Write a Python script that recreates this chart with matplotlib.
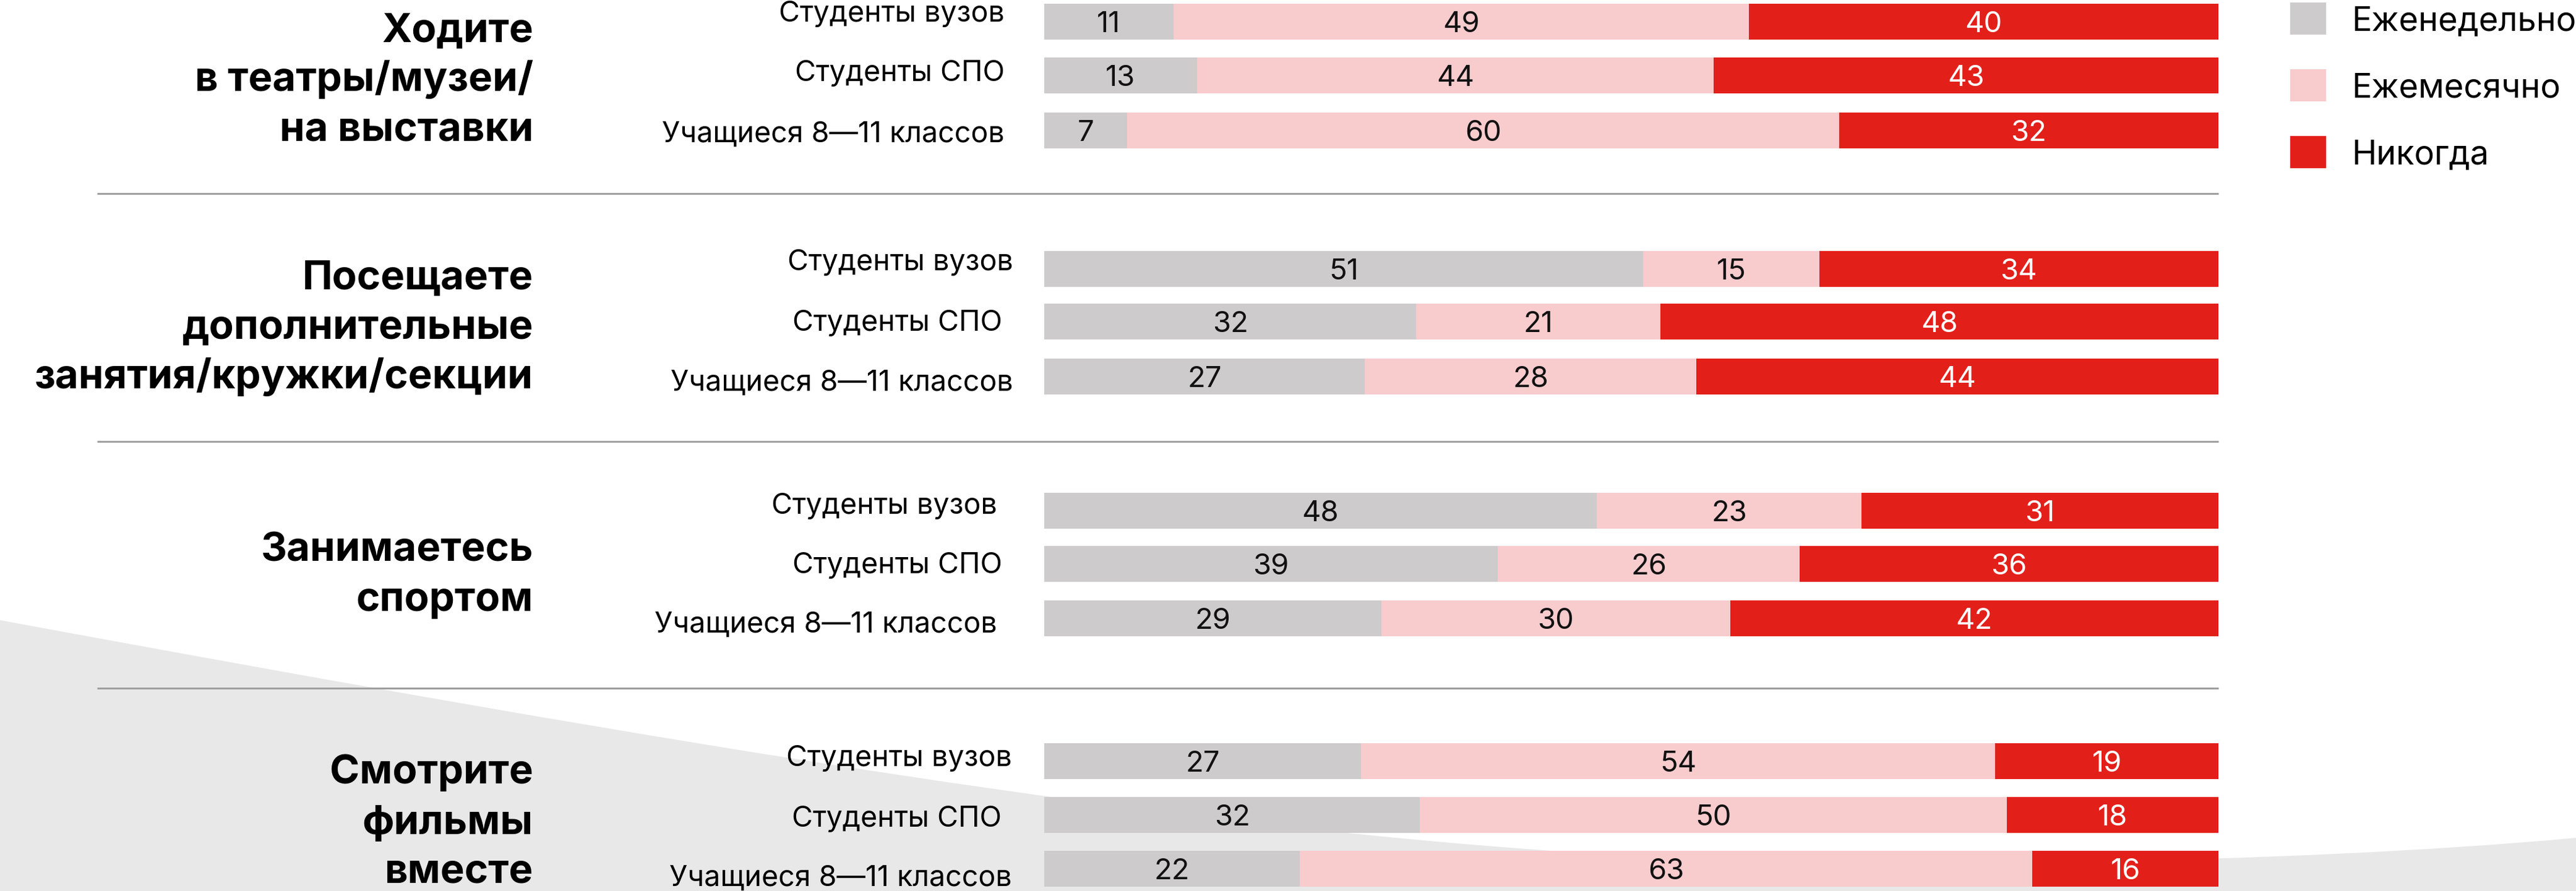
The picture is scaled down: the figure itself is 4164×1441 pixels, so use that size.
import numpy as np
import matplotlib
matplotlib.use("Agg")
import matplotlib.pyplot as plt
from matplotlib.path import Path
from matplotlib.patches import PathPatch, Rectangle

plt.rcParams['font.family'] = ['Inter', 'DejaVu Sans']

# ---- data -------------------------------------------------------------
TITLES = [
    ["Ходите", "в театры/музеи/", "на выставки"],
    ["Посещаете", "дополнительные", "занятия/кружки/секции"],
    ["Занимаетесь", "спортом"],
    ["Смотрите", "фильмы", "вместе"],
]
GROUPS = ["Студенты вузов", "Студенты СПО", "Учащиеся 8—11 классов"]
SERIES = ["Еженедельно", "Ежемесячно", "Никогда"]

weekly  = [[11, 13, 7],  [51, 32, 27], [48, 39, 29], [27, 32, 22]]
monthly = [[49, 44, 60], [15, 21, 28], [23, 26, 30], [54, 50, 63]]
never   = [[40, 43, 32], [34, 48, 44], [31, 36, 42], [19, 18, 16]]

COLORS = ["#cdcbcc", "#f8cbcd", "#e31f1a"]
TEXT_COLORS = ["#111111", "#111111", "white"]

# ---- layout (pixels of the 4164x1441 canvas) --------------------------
W, H = 4164, 1441
BAR_X0, BAR_X1 = 1688, 3586
BAR_H = 58
ROW_Y = [[35, 122, 211], [435, 520, 609], [826, 912, 1000], [1231, 1318, 1405]]
LABEL_Y = [[18, 115, 213], [421, 518, 615], [814, 910, 1006], [1222, 1320, 1416]]
LABEL_RIGHT = [[1624, 1624, 1624], [1638, 1620, 1638], [1612, 1620, 1612], [1636, 1619, 1636]]
TITLE_BASE = [[67, 147, 228], [467, 547, 628], [907, 988], [1267, 1349, 1428]]
TITLE_RIGHT = 862
SEP_Y = [313, 714, 1113]
LEG_Y = [30, 138, 246]

fig = plt.figure(figsize=(W / 100, H / 100), dpi=100)
bg = fig.add_axes([0, 0, 1, 1])
bg.set_xlim(0, W)
bg.set_ylim(H, 0)
bg.axis("off")

# light grey swoosh in the lower part of the canvas
verts = [(0, 1003), (1100, 1206), (1900, 1340), (2600, 1382),
         (3000, 1406), (3700, 1398), (4164, 1355),
         (W, H), (0, H), (0, 1003)]
codes = [Path.MOVETO, Path.CURVE4, Path.CURVE4, Path.CURVE4,
         Path.CURVE4, Path.CURVE4, Path.CURVE4,
         Path.LINETO, Path.LINETO, Path.CLOSEPOLY]
bg.add_patch(PathPatch(Path(verts, codes), facecolor="#e8e8e8", edgecolor="none", zorder=0))

for y in SEP_Y:
    bg.plot([157, BAR_X1], [y, y], color="#a0a0a0", lw=2.2, zorder=1, solid_capstyle="butt")

for g, lines in enumerate(TITLES):
    for line, yb in zip(lines, TITLE_BASE[g]):
        bg.text(TITLE_RIGHT, yb, line, ha="right", va="baseline",
                fontsize=47, fontweight="bold", color="#000000", zorder=3)
    for r, name in enumerate(GROUPS):
        bg.text(LABEL_RIGHT[g][r], LABEL_Y[g][r] + 16.5, name, ha="right", va="baseline",
                fontsize=33.5, color="#000000", zorder=3)

# legend
for i, (s, c) in enumerate(zip(SERIES, COLORS)):
    bg.add_patch(Rectangle((3702, LEG_Y[i] - 26), 58, 52, facecolor=c, edgecolor="none"))
    bg.text(3801, LEG_Y[i] + 19, s, ha="left", va="baseline", fontsize=39, color="#000000")

# bars
ax = fig.add_axes([BAR_X0 / W, 0, (BAR_X1 - BAR_X0) / W, 1])
ax.set_xlim(0, 100)
ax.set_ylim(H, 0)
ax.axis("off")
ax.patch.set_alpha(0)

for g in range(len(TITLES)):
    vals = np.array([weekly[g], monthly[g], never[g]], dtype=float)   # series x rows
    share = vals / vals.sum(axis=0) * 100
    left = np.zeros(3)
    for s in range(3):
        ax.barh(ROW_Y[g], share[s], left=left, height=BAR_H, color=COLORS[s], linewidth=0, zorder=2)
        for r in range(3):
            ax.text(left[r] + share[s][r] / 2, ROW_Y[g][r] + 17, f"{int(vals[s][r])}",
                    ha="center", va="baseline", fontsize=34, color=TEXT_COLORS[s], zorder=3)
        left += share[s]

fig.savefig("out.png", dpi=100)
